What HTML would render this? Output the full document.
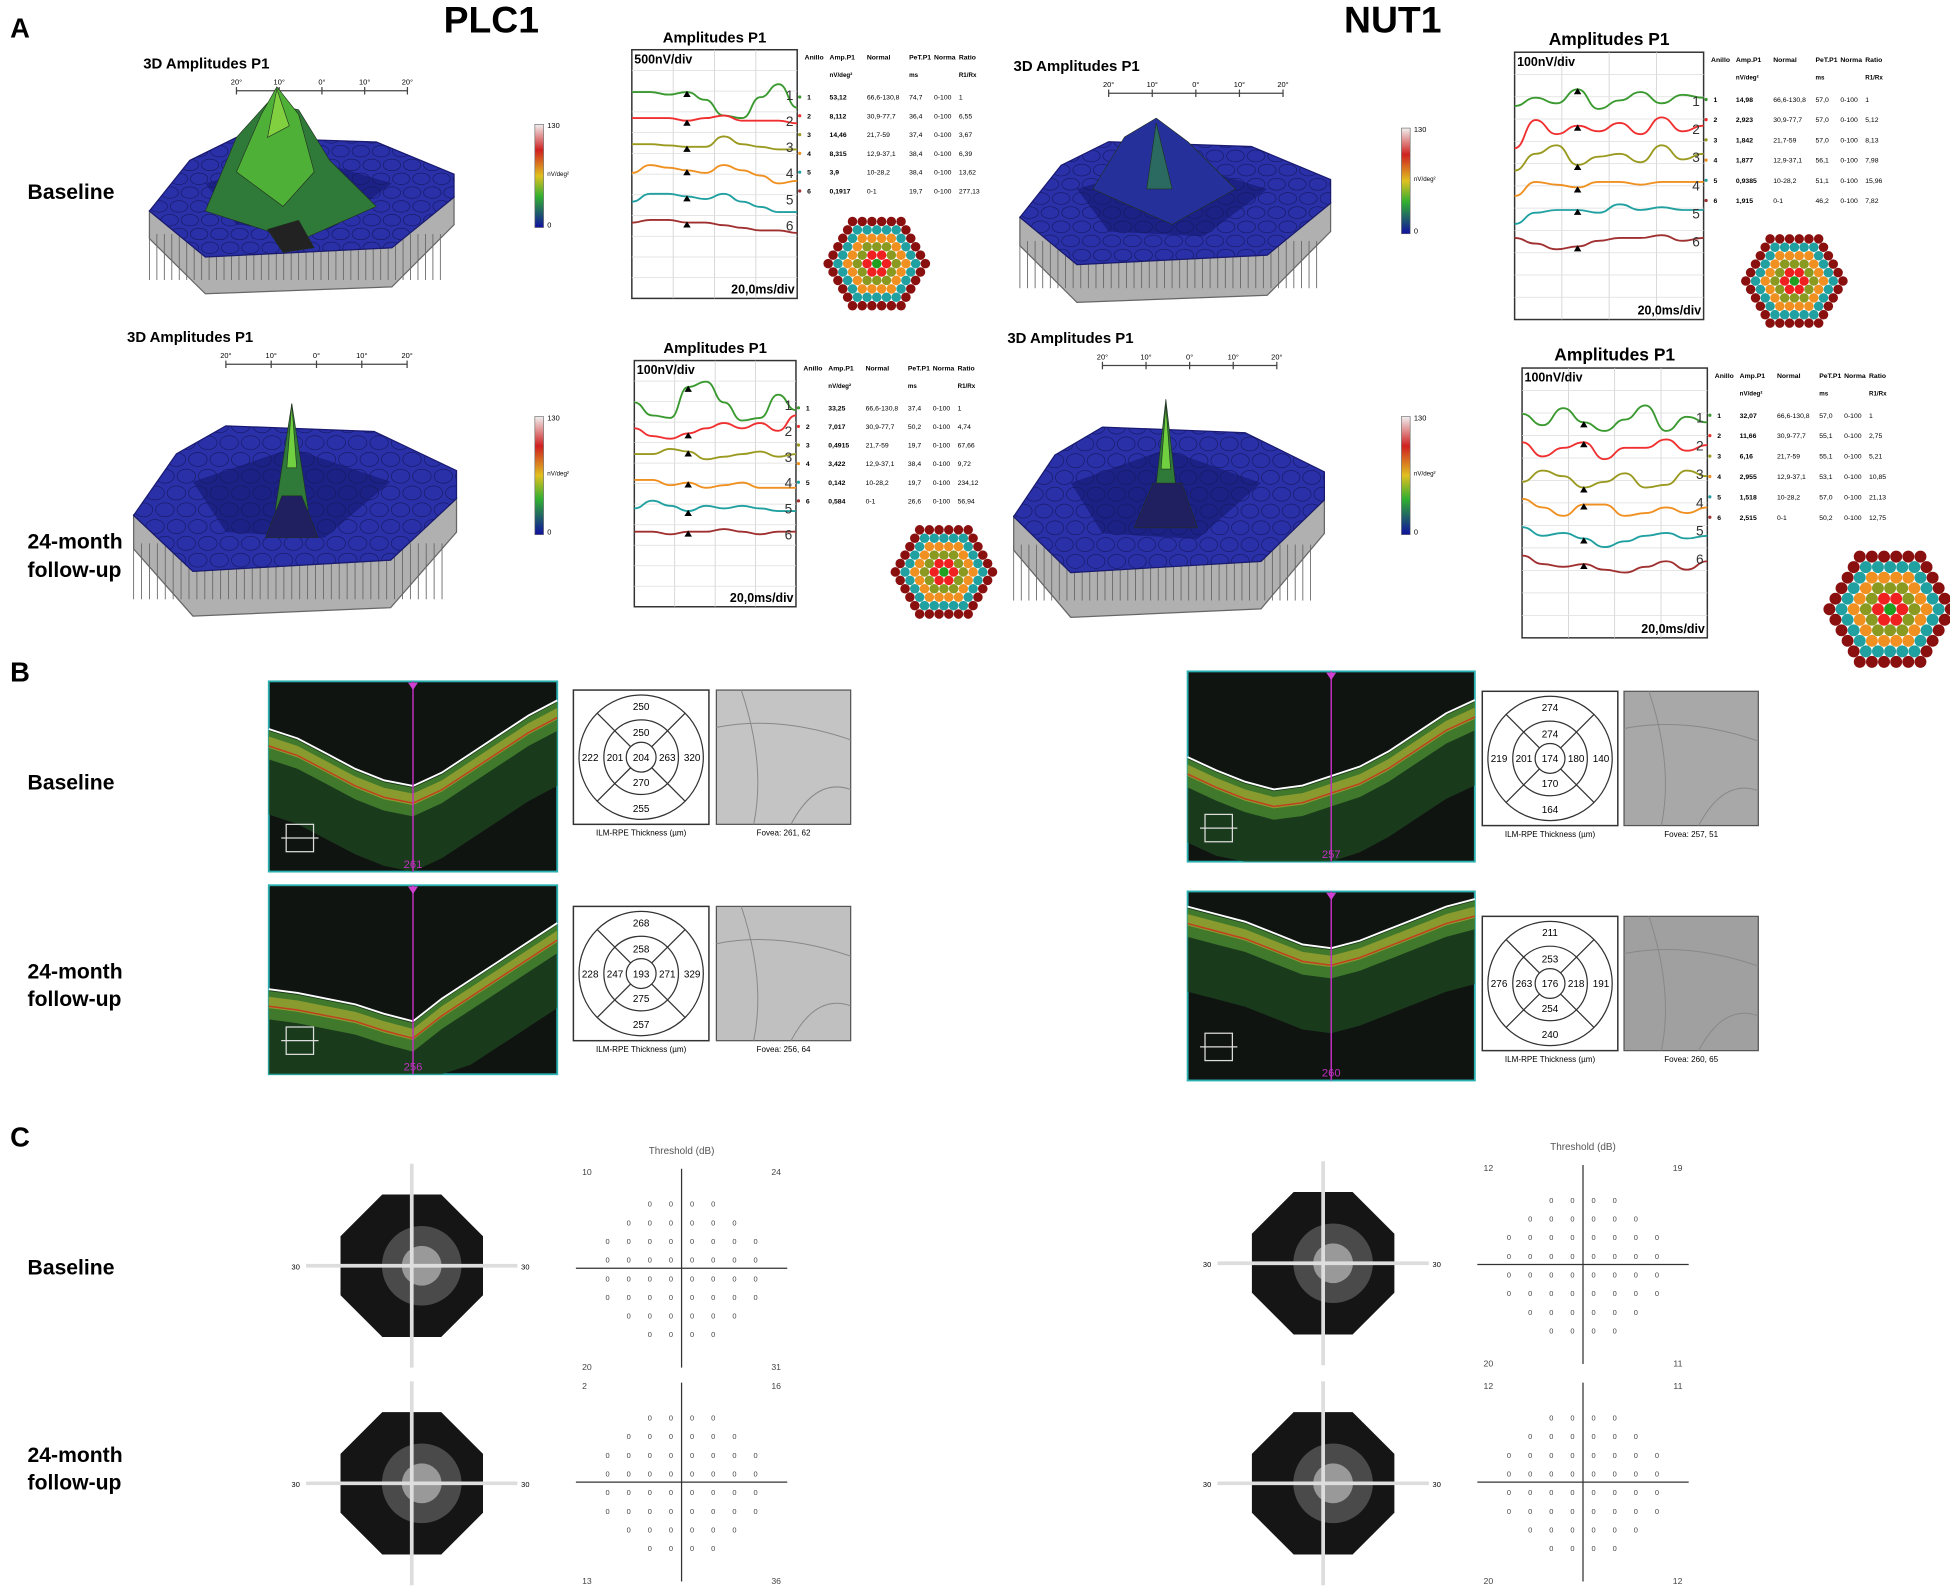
<!DOCTYPE html>
<html><head><meta charset="utf-8"><style>
html,body{margin:0;padding:0;background:#fff;width:1950px;height:1589px;overflow:hidden}
svg{display:block;font-family:"Liberation Sans",sans-serif}
</style></head><body>
<svg id="fig" width="1950" height="1589" viewBox="0 0 1568 1278" xmlns="http://www.w3.org/2000/svg">
<rect width="1568" height="1278" fill="#fff"/>
<g id="root"></g>
</svg>
<script>
// ---- ERG trace data (relative vertical offsets, +down in units of trace spacing) ----
const ergPlcBase1=[0,0,0.1,0,0.3,0.9,1.0,0.2,-0.3,0.6];
const ergPlcBase2=[0,0,0,0.1,0,-0.1,0.1,0.1,0.1,0.2];
const ergPlcBase3=[0,0,0.05,0.1,0.1,-0.3,0,0.1,0.2,0.2];
const ergPlcBase4=[0.1,-0.2,-0.1,0,0.1,-0.2,0,0.2,0.5,0.4];
const ergPlcBase5=[0.2,-0.1,-0.1,0,0.1,-0.1,0.2,0.4,0.6,0.6];
const ergPlcBase6=[0,-0.1,-0.1,0,0,0.1,0.2,0.3,0.3,0.4];
const ergPlcFu1=[0,0.5,0.6,-0.6,-0.8,0,0.7,0.6,-0.3,0.3];
const ergPlcFu2=[0,0.3,0.4,0.2,0,-0.2,0,-0.2,0.1,-0.5];
const ergPlcFu3=[0,0,-0.2,-0.1,0.2,0.1,0,-0.1,0.1,0];
const ergPlcFu4=[0,0,0.2,0.1,0.3,0.2,0.1,0.3,0.3,0.3];
const ergPlcFu5=[0.1,-0.2,0,0.2,0,0.1,0,0.1,0.2,0.2];
const ergPlcFu6=[0,0,0.1,0,0,-0.1,0,0.1,0,0];
const ergNutBase1=[0.3,0,0.2,-0.3,0.4,0.1,-0.2,0.2,-0.1,0];
const ergNutBase2=[0.8,-0.2,0.3,0,0.2,-0.1,0.3,-0.3,0.2,0];
const ergNutBase3=[0.6,0,-0.3,0.4,0.1,0,0.3,-0.3,0.2,0];
const ergNutBase4=[0.5,0,0.1,0.2,0,0,0.1,0,0,0];
const ergNutBase5=[0.5,0.1,0,0,0.1,-0.2,0,-0.1,0,0];
const ergNutBase6=[0,0.2,0.4,0.3,0.1,0,0,-0.1,0.1,0];
const ergNutFu1=[0,0.4,-0.2,0.3,0.6,0.2,-0.3,0.6,0.1,0.3];
const ergNutFu2=[0,0.5,0.2,0,0.6,0.2,0.2,-0.1,0.3,0.1];
const ergNutFu3=[0.4,0,0.2,0.6,0.4,0.1,0.6,0.5,0,0.2];
const ergNutFu4=[0,0.3,0.6,0.2,0.2,0.6,0.5,0.3,0.5,0.3];
const ergNutFu5=[0,0.3,0.2,0.4,0.7,0.5,0.3,0.2,0.4,0.3];
const ergNutFu6=[0,0.3,0.4,0.3,0.5,0.6,0.4,0.2,0.5,0.2];
// table values
const ringLabels=["1","2","3","4","5","6"];
const normals=["66,6-130,8","30,9-77,7","21,7-59","12,9-37,1","10-28,2","0-1"];
const ampPlcBase=["53,12","8,112","14,46","8,315","3,9","0,1917"];
const petPlcBase=["74,7","36,4","37,4","38,4","38,4","19,7"];
const ratioPlcBase=["1","6,55","3,67","6,39","13,62","277,13"];
const ampPlcFu=["33,25","7,017","0,4915","3,422","0,142","0,584"];
const petPlcFu=["37,4","50,2","19,7","38,4","19,7","26,6"];
const ratioPlcFu=["1","4,74","67,66","9,72","234,12","56,94"];
const ampNutBase=["14,98","2,923","1,842","1,877","0,9385","1,915"];
const petNutBase=["57,0","57,0","57,0","56,1","51,1","46,2"];
const ratioNutBase=["1","5,12","8,13","7,98","15,96","7,82"];
const ampNutFu=["32,07","11,66","6,16","2,955","1,518","2,515"];
const petNutFu=["57,0","55,1","55,1","53,1","57,0","50,2"];
const ratioNutFu=["1","2,75","5,21","10,85","21,13","12,75"];
// OCT thickness grids: [top-outer, top-inner, left-outer, left-inner, center, right-inner, right-outer, bottom-inner, bottom-outer]
const thkPlcBase=[250,250,222,201,204,263,320,270,255];
const thkPlcFu=[268,258,228,247,193,271,329,275,257];
const thkNutBase=[274,274,219,201,174,180,140,170,164];
const thkNutFu=[211,253,276,263,176,218,191,254,240];
const foveaLabels=["Fovea: 261, 62","Fovea: 256, 64","Fovea: 257, 51","Fovea: 260, 65"];
const octCenterVals=["261","256","257","260"];

const NS="http://www.w3.org/2000/svg";
const root=document.getElementById('root');
let uid=0;
function el(tag,attrs,parent,text){const e=document.createElementNS(NS,tag);for(const k in attrs)e.setAttribute(k,attrs[k]);if(text!==undefined)e.textContent=text;(parent||root).appendChild(e);return e;}
function txt(x,y,s,size,opts,parent,name){opts=opts||{};const t=el('text',Object.assign({x:x,y:y,'font-size':size,fill:opts.fill||'#000','font-weight':opts.bold?'bold':'normal','text-anchor':opts.anchor||'start'},opts.extra||{}),parent,s);


return t;}

// ---- titles & labels ----
txt(395,26,"PLC1",30,{bold:true,anchor:'middle'},null,'title-plc1');
txt(1120,26,"NUT1",30,{bold:true,anchor:'middle'},null,'title-nut1');
txt(8,30,"A",22,{bold:true},null,'panel-label-a');
txt(8,548,"B",22,{bold:true},null,'panel-label-b');
txt(8,922,"C",22,{bold:true},null,'panel-label-c');
const rowLbl=[[160,"Baseline"],[635,"Baseline"],[1025,"Baseline"]];
rowLbl.forEach(r=>txt(22,r[0],r[1],17,{bold:true},null,'row-label-baseline'));
[[441,464],[787,809],[1176,1198]].forEach(r=>{txt(22,r[0],"24-month",17,{bold:true},null,'row-label-followup');txt(22,r[1],"follow-up",17,{bold:true},null,'row-label-followup');});

// ---- 3D amplitude plots ----
function plot3d(x,y,w,h,title,peak,name){
  const g=el('g',{},root);
  txt(x,y,title,12,{bold:true},g,'plot-3d-title');
  const rx=x+w*0.3, rw=w*0.55, ry=y+18;
  el('line',{x1:rx,y1:ry,x2:rx+rw,y2:ry,stroke:'#444','stroke-width':1},g);
  ["20°","10°","0°","10°","20°"].forEach((s,i)=>{const xx=rx+rw*i/4;el('line',{x1:xx,y1:ry-3,x2:xx,y2:ry+3,stroke:'#444'},g);txt(xx,ry-5,s,6,{anchor:'middle'},g,'ruler-tick');});
  const P=(a,b)=>(x+a*w)+','+(y+b*h);
  el('polygon',{points:[P(0.02,0.62),P(0.2,0.82),P(0.8,0.78),P(1,0.56),P(1,0.68),P(0.8,0.95),P(0.2,0.98),P(0.02,0.74)].join(' '),fill:'#b0b0b0',stroke:'#666'},g);
  for(let i=0;i<40;i++){const a=0.02+i*0.024;el('line',{x1:x+a*w,y1:y+0.72*h,x2:x+a*w,y2:y+0.92*h,stroke:'#666','stroke-width':0.7},g);}
  const topPts=[P(0.02,0.62),P(0.15,0.4),P(0.3,0.3),P(0.75,0.32),P(1,0.46),P(1,0.56),P(0.8,0.78),P(0.2,0.82)].join(' ');
  const cid='clip'+(uid++);const defs=el('defs',{},g);const cp=el('clipPath',{id:cid},defs);el('polygon',{points:topPts},cp);
  el('polygon',{points:topPts,fill:'#2a30a8',stroke:'#1a1a70'},g);
  const tex=el('g',{'clip-path':'url(#'+cid+')'},g);
  el('polygon',{points:[P(0.2,0.5),P(0.5,0.38),P(0.8,0.5),P(0.6,0.7),P(0.3,0.68)].join(' '),fill:'#1c2185'},tex);
  for(let i=0;i<16;i++)for(let j=0;j<9;j++){const cx=x+w*(0.02+i*0.065+(j%2)*0.03),cy=y+h*(0.3+j*0.06);el('ellipse',{cx:cx,cy:cy,rx:w*0.028,ry:h*0.025,fill:'none',stroke:'#161a60','stroke-width':0.5},tex);}
  peak.forEach(p=>{el('polygon',{points:p.pts.map(q=>P(q[0],q[1])).join(' '),fill:p.c,stroke:'#203020','stroke-width':0.5},g);});
}
const peakPlcBase=[{c:'#2f7a38',pts:[[0.2,0.62],[0.3,0.3],[0.4,0.15],[0.5,0.18],[0.6,0.4],[0.75,0.6],[0.5,0.75]]},{c:'#4fb038',pts:[[0.3,0.45],[0.38,0.2],[0.43,0.08],[0.5,0.2],[0.55,0.45],[0.45,0.6]]},{c:'#80d040',pts:[[0.4,0.3],[0.43,0.09],[0.47,0.25]]},{c:'#222',pts:[[0.4,0.7],[0.5,0.66],[0.55,0.78],[0.45,0.8]]}];
const peakPlcFu=[{c:'#2f7a38',pts:[[0.45,0.6],[0.5,0.22],[0.55,0.6]]},{c:'#70d040',pts:[[0.485,0.45],[0.5,0.22],[0.515,0.45]]},{c:'#202060',pts:[[0.42,0.7],[0.47,0.55],[0.53,0.55],[0.58,0.7]]}];
const peakNutBase=[{c:'#25309a',pts:[[0.25,0.5],[0.35,0.28],[0.45,0.2],[0.55,0.3],[0.7,0.5],[0.5,0.65]]},{c:'#2a6a60',pts:[[0.42,0.5],[0.45,0.22],[0.5,0.5]]}];
const peakNutFu=[{c:'#2f7a38',pts:[[0.46,0.6],[0.5,0.2],[0.54,0.6]]},{c:'#70d040',pts:[[0.485,0.45],[0.5,0.22],[0.515,0.45]]},{c:'#202060',pts:[[0.4,0.66],[0.46,0.5],[0.55,0.5],[0.6,0.66]]}];
plot3d(115,55,250,185,"3D Amplitudes P1",peakPlcBase,'plot-3d-plc1-baseline');
plot3d(102,275,265,225,"3D Amplitudes P1",peakPlcFu,'plot-3d-plc1-followup');
plot3d(815,57,255,190,"3D Amplitudes P1",peakNutBase,'plot-3d-nut1-baseline');
plot3d(810,276,255,225,"3D Amplitudes P1",peakNutFu,'plot-3d-nut1-followup');

function colorbar(x,y,h,name){const g=el('g',{},root);
 const id='cb'+x+y;const d=el('defs',{},g);const lg=el('linearGradient',{id:id,x1:0,y1:0,x2:0,y2:1},d);
 [['0','#f0f0f0'],['0.25','#d02020'],['0.5','#e0c020'],['0.7','#30b030'],['1','#1010a0']].forEach(s=>el('stop',{offset:s[0],'stop-color':s[1]},lg));
 el('rect',{x:x,y:y,width:7,height:h,fill:'url(#'+id+')',stroke:'#666','stroke-width':0.5},g);
 txt(x+10,y+3,"130",6,{},g,'colorbar-max');txt(x+10,y+h/2,"nV/deg²",5,{},g,'colorbar-unit');txt(x+10,y+h,"0",6,{},g,'colorbar-min');}
colorbar(430,100,83,'colorbar-plc1-baseline');colorbar(430,335,95,'colorbar-plc1-followup');colorbar(1127,103,85,'colorbar-nut1-baseline');colorbar(1127,335,95,'colorbar-nut1-followup');

// ---- ERG panels ----
const trColors=['#3a9a30','#f03030','#9a9a20','#f09020','#20a0a0','#a03030'];
function erg(x,y,w,h,scale,traces,amps,pets,ratios,hexX,hexY,hexR,name){
  const g=el('g',{},root);
  txt(x+w/2,y-6,"Amplitudes P1",h>210?14:12,{bold:true,anchor:'middle'},g,'erg-title');
  el('rect',{x:x,y:y,width:w,height:h,fill:'#fff',stroke:'#333','stroke-width':1.2},g);
  for(let i=1;i<4;i++)el('line',{x1:x+w*i/4,y1:y,x2:x+w*i/4,y2:y+h,stroke:'#ccc','stroke-width':0.6},g);
  for(let i=1;i<12;i++)el('line',{x1:x,y1:y+h*i/12,x2:x+w,y2:y+h*i/12,stroke:'#ddd','stroke-width':0.6},g);
  txt(x+2,y+11,scale,10,{bold:true},g,'erg-scale-label');
  txt(x+w-2,y+h-4,"20,0ms/div",10,{bold:true,anchor:'end'},g,'erg-time-label');
  const sp=h*0.105, y0=y+h*0.17;
  traces.forEach((tr,k)=>{const base=y0+k*sp;const pts=tr.map((v,i)=>[x+w*i/(tr.length-1),base+v*sp]);
    let d='M'+pts[0][0].toFixed(1)+','+pts[0][1].toFixed(1);
    for(let i=1;i<pts.length;i++){const mx=(pts[i-1][0]+pts[i][0])/2;d+=` C${mx.toFixed(1)},${pts[i-1][1].toFixed(1)} ${mx.toFixed(1)},${pts[i][1].toFixed(1)} ${pts[i][0].toFixed(1)},${pts[i][1].toFixed(1)}`;}
    const p=el('path',{d:d,fill:'none',stroke:trColors[k],'stroke-width':1.5,'stroke-linejoin':'round'},g);
    
    txt(x+w-3,base+sp*0.3,ringLabels[k],11,{anchor:'end',fill:'#333'},g,'erg-trace-number');
    const mi=3,mx=x+w*mi/(tr.length-1),my=base+tr[mi]*sp;el('polygon',{points:`${mx-3},${my+4} ${mx+3},${my+4} ${mx},${my-1}`,fill:'#000'},g);
  });
  const tx=x+w+6, ty=y+8;const cols=[0,20,50,84,104,124];
  ["Anillo","Amp.P1","Normal","PeT.P1","Norma","Ratio"].forEach((s,i)=>txt(tx+cols[i],ty,s,5.5,{bold:true},g,'table-header'));
  txt(tx+20,ty+14,"nV/deg²",5,{bold:true},g,'table-unit');txt(tx+84,ty+14,"ms",5,{bold:true},g,'table-unit');txt(tx+124,ty+14,"R1/Rx",5,{bold:true},g,'table-unit');
  for(let k=0;k<6;k++){const yy=ty+32+k*sp*0.72;el('circle',{cx:tx-4,cy:yy-2,r:1.3,fill:trColors[k]},g);
    [[ringLabels[k],true],[amps[k],true],[normals[k],false],[pets[k],false],["0-100",false],[ratios[k],false]].forEach((c,i)=>txt(tx+cols[i]+(i==0?2:0),yy,c[0],5.5,{bold:c[1]},g,'table-cell'));}
  hexIcon(hexX,hexY,hexR,g);
}
const hexColors=['#20a020','#f02020','#8a9a20','#f09020','#20a0a0','#8a1010','#8a1010'];
function hexIcon(cx,cy,R,g){const r=R/6.2;const hg=el('g',{},g);
 for(let q=-6;q<=6;q++)for(let s=-6;s<=6;s++){const t=-q-s;const dist=Math.max(Math.abs(q),Math.abs(s),Math.abs(t));if(dist>5)continue;
  const px=cx+r*1.73*(q+s/2),py=cy+r*1.5*s;el('circle',{cx:px,cy:py,r:r*0.85,fill:hexColors[dist]},hg);}}
erg(508,40,133,200,"500nV/div",[ergPlcBase1,ergPlcBase2,ergPlcBase3,ergPlcBase4,ergPlcBase5,ergPlcBase6],ampPlcBase,petPlcBase,ratioPlcBase,705,212,28,'erg-plc1-baseline');
erg(510,290,130,198,"100nV/div",[ergPlcFu1,ergPlcFu2,ergPlcFu3,ergPlcFu4,ergPlcFu5,ergPlcFu6],ampPlcFu,petPlcFu,ratioPlcFu,759,460,28,'erg-plc1-followup');
erg(1218,42,152,215,"100nV/div",[ergNutBase1,ergNutBase2,ergNutBase3,ergNutBase4,ergNutBase5,ergNutBase6],ampNutBase,petNutBase,ratioNutBase,1443,226,28,'erg-nut1-baseline');
erg(1224,296,149,217,"100nV/div",[ergNutFu1,ergNutFu2,ergNutFu3,ergNutFu4,ergNutFu5,ergNutFu6],ampNutFu,petNutFu,ratioNutFu,1520,490,35,'erg-nut1-followup');

// ---- Panel B: OCT ----
function oct(x,y,w,h,curve,val,name){const g=el('g',{},root);
 el('rect',{x:x,y:y,width:w,height:h,fill:'#101410',stroke:'#2ab0b0','stroke-width':1.5},g);
 const pt=(a)=>{return curve.map((v,i)=>(x+w*i/(curve.length-1)).toFixed(1)+','+Math.min(y+h,(y+h*(v+a))).toFixed(1));};
 el('polygon',{points:pt(0).concat(pt(0.45).reverse()).join(' '),fill:'#1f4a22',opacity:0.7},g);
 el('polygon',{points:pt(0.01).concat(pt(0.16).reverse()).join(' '),fill:'#4a8a30',opacity:0.8},g);
 el('polygon',{points:pt(0.04).concat(pt(0.1).reverse()).join(' '),fill:'#a8a830',opacity:0.7},g);
 el('polyline',{points:pt(0.09).join(' '),fill:'none',stroke:'#c04020','stroke-width':1.2},g);
 el('polyline',{points:pt(0).join(' '),fill:'none',stroke:'#fff','stroke-width':1.5},g);
 const cx=x+w*0.5;el('line',{x1:cx,y1:y,x2:cx,y2:y+h,stroke:'#c030c0','stroke-width':1.2},g);
 el('polygon',{points:`${cx-4},${y+1} ${cx+4},${y+1} ${cx},${y+7}`,fill:'#d040d0'},g);
 txt(cx,y+h-3,val,9,{fill:'#c030c0',anchor:'middle'},g,'oct-center-value');
 el('rect',{x:x+14,y:y+h-38,width:22,height:22,fill:'none',stroke:'#ddd'},g);el('line',{x1:x+10,y1:y+h-27,x2:x+40,y2:y+h-27,stroke:'#ddd'},g);
}
oct(216,548,232,153,[0.25,0.3,0.38,0.46,0.52,0.55,0.48,0.38,0.28,0.18,0.1],octCenterVals[0],'oct-plc1-baseline');
oct(216,712,232,152,[0.55,0.57,0.6,0.63,0.68,0.72,0.6,0.5,0.4,0.3,0.2],octCenterVals[1],'oct-plc1-followup');
oct(955,540,231,153,[0.45,0.52,0.58,0.62,0.6,0.55,0.5,0.42,0.32,0.22,0.15],octCenterVals[2],'oct-nut1-baseline');
oct(955,717,231,152,[0.08,0.12,0.16,0.22,0.28,0.3,0.26,0.2,0.14,0.08,0.04],octCenterVals[3],'oct-nut1-followup');
function thk(x,y,vals,name){const g=el('g',{},root);
 el('rect',{x:x,y:y,width:109,height:108,fill:'#fff',stroke:'#333','stroke-width':1.2},g);
 const cx=x+54.5,cy=y+54;[50,30,12].forEach(r=>el('circle',{cx:cx,cy:cy,r:r,fill:'none',stroke:'#333'},g));
 const d=50*0.707,i=12*0.707;[[1,1],[1,-1],[-1,1],[-1,-1]].forEach(s=>el('line',{x1:cx+s[0]*i,y1:cy+s[1]*i,x2:cx+s[0]*d,y2:cy+s[1]*d,stroke:'#333'},g));
 const pos=[[0,-41],[0,-20],[-41,0],[-21,0],[0,0],[21,0],[41,0],[0,20],[0,41]];
 pos.forEach((p,k)=>txt(cx+p[0],cy+p[1]+3,String(vals[k]),8,{anchor:'middle'},g,'thickness-value'));
 txt(cx,y+117,"ILM-RPE Thickness (µm)",6.5,{anchor:'middle'},g,'thickness-caption');}
thk(461,555,thkPlcBase,'thickness-plc1-baseline');thk(461,729,thkPlcFu,'thickness-plc1-followup');
thk(1192,556,thkNutBase,'thickness-nut1-baseline');thk(1192,737,thkNutFu,'thickness-nut1-followup');
function fundus(x,y,fill,cap,name){const g=el('g',{},root);
 el('rect',{x:x,y:y,width:108,height:108,fill:fill,stroke:'#555'},g);
 el('path',{d:`M${x},${y+30} Q${x+50},${y+20} ${x+108},${y+40} M${x+20},${y} Q${x+40},${y+60} ${x+30},${y+108} M${x+60},${y+108} Q${x+80},${y+70} ${x+108},${y+80}`,fill:'none',stroke:'#888','stroke-width':0.8},g);
 txt(x+54,y+117,cap,6.5,{anchor:'middle'},g,'fovea-caption');}
fundus(576,555,'#c4c4c4',foveaLabels[0],'fundus-plc1-baseline');fundus(576,729,'#c0c0c0',foveaLabels[1],'fundus-plc1-followup');
fundus(1306,556,'#a8a8a8',foveaLabels[2],'fundus-nut1-baseline');fundus(1306,737,'#a0a0a0',foveaLabels[3],'fundus-nut1-followup');

// ---- Panel C: visual fields ----
function vfGray(cx,cy,name){const g=el('g',{},root);
 const R=62;const pts=[];for(let i=0;i<8;i++){const a=Math.PI/8+i*Math.PI/4;pts.push((cx+R*Math.cos(a)).toFixed(1)+','+(cy+R*Math.sin(a)).toFixed(1));}
 el('polygon',{points:pts.join(' '),fill:'#151515'},g);
 el('circle',{cx:cx+8,cy:cy,r:32,fill:'#4a4a4a'},g);el('circle',{cx:cx+8,cy:cy,r:16,fill:'#999'},g);
 el('line',{x1:cx-85,y1:cy,x2:cx+85,y2:cy,stroke:'#ddd','stroke-width':3},g);el('line',{x1:cx,y1:cy-82,x2:cx,y2:cy+82,stroke:'#ddd','stroke-width':3},g);
 txt(cx-90,cy+3,"30",6,{anchor:'end'},g,'axis-label');txt(cx+88,cy+3,"30",6,{},g,'axis-label');}
vfGray(331,1018,'vf-graymap-plc1-baseline');vfGray(331,1193,'vf-graymap-plc1-followup');
vfGray(1064,1016,'vf-graymap-nut1-baseline');vfGray(1064,1193,'vf-graymap-nut1-followup');
const vfNums=[["10","24","20","31"],["2","16","13","36"],["12","19","20","11"],["12","11","20","12"]];
function vfThresh(cx,cy,corn,title,name){const g=el('g',{},root);
 if(title)txt(cx,cy-92,"Threshold (dB)",8,{anchor:'middle',fill:'#555'},g,'threshold-title');
 el('line',{x1:cx-85,y1:cy,x2:cx+85,y2:cy,stroke:'#333'},g);el('line',{x1:cx,y1:cy-80,x2:cx,y2:cy+80,stroke:'#333'},g);
 for(let i=-4;i<4;i++)for(let j=-4;j<4;j++){const dx=(i+0.5),dy=(j+0.5);if(Math.abs(dx)+Math.abs(dy)>5.5)continue;
  txt(cx+dx*17,cy+dy*15+3,"0",6,{anchor:'middle',fill:'#444'},g,'threshold-value');}
 txt(cx-80,cy-75,corn[0],7,{fill:'#444'},g,'quadrant-value');txt(cx+80,cy-75,corn[1],7,{fill:'#444',anchor:'end'},g,'quadrant-value');
 txt(cx-80,cy+82,corn[2],7,{fill:'#444'},g,'quadrant-value');txt(cx+80,cy+82,corn[3],7,{fill:'#444',anchor:'end'},g,'quadrant-value');}
vfThresh(548,1020,vfNums[0],true,'vf-threshold-plc1-baseline');vfThresh(548,1192,vfNums[1],false,'vf-threshold-plc1-followup');
vfThresh(1273,1017,vfNums[2],true,'vf-threshold-nut1-baseline');vfThresh(1273,1192,vfNums[3],false,'vf-threshold-nut1-followup');
</script>
</body></html>
